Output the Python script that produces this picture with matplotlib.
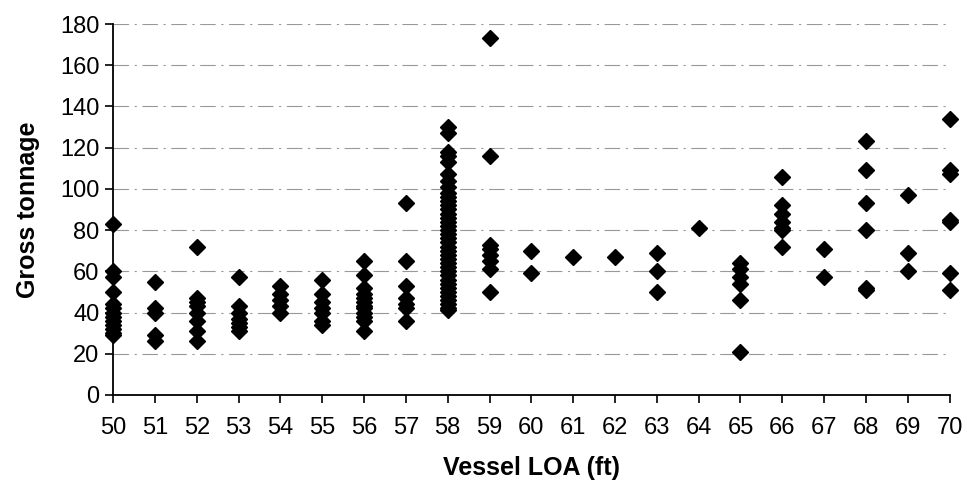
import matplotlib.pyplot as plt

plt.rcParams['font.family'] = ['Liberation Sans', 'DejaVu Sans']

# gross tonnage values observed per vessel length (ft)
gt50 = [83, 60, 57, 50, 44, 42, 40, 38, 36, 34, 32, 30, 29]
gt51 = [55, 42, 40, 29, 26]
gt52 = [72, 47, 45, 43, 40, 36, 31, 26]
gt53 = [57, 43, 40, 37, 35, 33, 31]
gt54 = [53, 49, 46, 43, 40]
gt55 = [56, 49, 45, 42, 40, 36, 34]
gt56 = [65, 58, 52, 49, 47, 45, 43, 42, 40, 38, 36, 31]
gt57 = [93, 65, 53, 47, 44, 42, 36]
gt58 = [130, 127, 118, 116, 113, 107, 104, 101, 98, 96, 94, 92, 90, 88, 86,
        84, 82, 80, 78, 76, 74, 72, 70, 68, 66, 64, 62, 60, 58, 56, 54, 52,
        50, 48, 46, 44, 42, 41]
gt59 = [173, 116, 73, 71, 68, 65, 61, 50]
gt60 = [70, 59]
gt61 = [67]
gt62 = [67]
gt63 = [69, 60, 50]
gt64 = [81]
gt65 = [64, 61, 57, 54, 46, 21]
gt66 = [106, 92, 88, 84, 81, 80, 72]
gt67 = [71, 57]
gt68 = [123, 109, 93, 80, 52, 51]
gt69 = [97, 69, 60]
gt70 = [134, 109, 107, 85, 84, 59, 51]

lengths = list(range(50, 71))
tonnage = [gt50, gt51, gt52, gt53, gt54, gt55, gt56, gt57, gt58, gt59, gt60,
           gt61, gt62, gt63, gt64, gt65, gt66, gt67, gt68, gt69, gt70]

fig = plt.figure(figsize=(9.67, 4.9), dpi=100)
ax = fig.add_axes([0.117, 0.194, 0.865, 0.757])

xs = []
ys = []
for L, vals in zip(lengths, tonnage):
    for v in vals:
        xs.append(L)
        ys.append(v)

ax.plot(xs, ys, linestyle='none', marker='D', markersize=8, color='black',
        clip_on=False, zorder=3)

ax.set_xlim(50, 70)
ax.set_ylim(0, 180)
ax.set_xticks(lengths)
ax.set_yticks(range(0, 181, 20))
ax.yaxis.grid(True, color='#999999', linestyle=(0, (14, 5, 2, 5)), linewidth=0.8)
ax.set_axisbelow(True)
for s in ['top', 'right']:
    ax.spines[s].set_visible(False)
ax.spines['left'].set_linewidth(1.3)
ax.spines['bottom'].set_linewidth(1.3)
ax.tick_params(axis='both', labelsize=17, length=6, width=1.2)
ax.tick_params(axis='x', pad=10)
ax.tick_params(axis='y', pad=4)
ax.set_xlabel('Vessel LOA (ft)', fontsize=18, fontweight='bold', labelpad=12)
ax.set_ylabel('Gross tonnage', fontsize=18, fontweight='bold', labelpad=14)

fig.savefig('out.png', dpi=100)
